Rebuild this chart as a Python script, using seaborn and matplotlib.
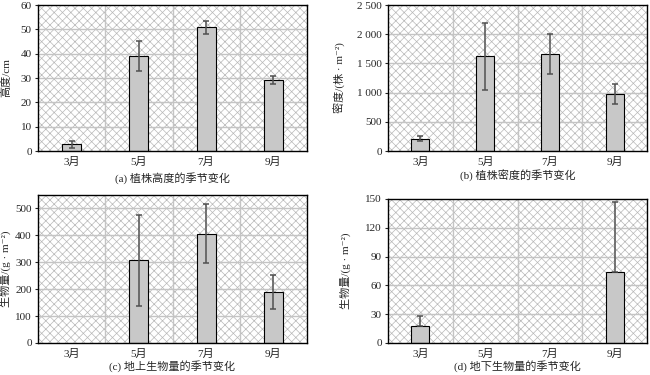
"""Seasonal change of plant height, density and biomass (four bar panels)
"""

import matplotlib.pyplot as plt
from matplotlib.patches import Rectangle
from matplotlib.ticker import MultipleLocator, FuncFormatter
import numpy as np
import pandas as pd
import seaborn as sns

months = ["3月", "5月", "7月", "9月"]

height_mean = [2.7, 38.9, 50.8, 29.2]
height_err = [1.6, 6.2, 2.7, 1.5]

density_mean = [210, 1625, 1655, 975]
density_err = [40, 575, 345, 178]

above_mean = [np.nan, 307, 406, 189]
above_err = [np.nan, 168, 110, 63]

below_mean = [17.3, np.nan, np.nan, 73.8]
below_err = [11.0, np.nan, np.nan, 72.7]

sns.set_style("white")
plt.rcParams["font.family"] = ["Liberation Serif", "Noto Sans CJK SC", "DejaVu Serif"]
plt.rcParams["hatch.linewidth"] = 0.5
plt.rcParams["axes.unicode_minus"] = False

fig = plt.figure(figsize=(6.5, 3.75), dpi=100)

panels = [
    # mean, err, ylim, step, ylabel, caption, rect (px), label x (px), caption y (px), upper only
    (height_mean, height_err, 60, 10, "高度/cm", "(a) 植株高度的季节变化",
     [38, 5, 307, 151], 11, 178, False),
    (density_mean, density_err, 2500, 500, "密度/(株 · m⁻²)", "(b) 植株密度的季节变化",
     [388, 5, 647, 151], 346, 176, False),
    (above_mean, above_err, 550, 100, "生物量/(g · m⁻²)", "(c) 地上生物量的季节变化",
     [38, 195, 307, 343], 11, 366, False),
    (below_mean, below_err, 150, 30, "生物量/(g · m⁻²)", "(d) 地下生物量的季节变化",
     [388, 199, 647, 343], 351, 366, True),
]

W, H = 650, 375


def thousands(v, pos):
    return f"{int(v):,}".replace(",", " ")


for mean, err, top, step, ylab, cap, (l, t, r, b), lx, cy, upper in panels:
    ax = fig.add_axes([l / W, 1 - b / H, (r - l) / W, (b - t) / H])
    df = pd.DataFrame({"month": months, "val": mean})
    sns.barplot(data=df, x="month", y="val", order=months, color="#c8c8c8",
                saturation=1, width=0.28, edgecolor="black", linewidth=0.8,
                errorbar=None, ax=ax, zorder=3)
    x = np.arange(len(months))
    m = np.array(mean, dtype=float)
    e = np.array(err, dtype=float)
    yerr = [np.zeros_like(e), e] if upper else e
    ax.errorbar(x, m, yerr=yerr, fmt="none", ecolor="#505050", elinewidth=1.1,
                capsize=2, capthick=1.1, zorder=4)

    # cross-hatched background
    ax.add_patch(Rectangle((0, 0), 1, 1, transform=ax.transAxes, facecolor="white",
                           hatch="xxxx", edgecolor="#b8b8b8", lw=0, zorder=0))
    for gx in [0.5, 1.5, 2.5]:
        ax.axvline(gx, color="#c4c4c4", lw=1, zorder=1)
    for gy in np.arange(step, top, step):
        ax.axhline(gy, color="#c4c4c4", lw=1, zorder=1)

    ax.set_xlim(-0.5, 3.5)
    ax.set_ylim(0, top)
    ax.yaxis.set_major_locator(MultipleLocator(step))
    if top >= 1000:
        ax.yaxis.set_major_formatter(FuncFormatter(thousands))
    ax.set_xlabel("")
    ax.set_ylabel(ylab, fontsize=8)
    ax.yaxis.set_label_coords((lx - l) / (r - l), 0.5)
    ax.tick_params(axis="both", labelsize=8, length=2.5, width=0.8, pad=2,
                   left=True, bottom=False)
    for s in ax.spines.values():
        s.set_color("black")
        s.set_linewidth(1)
        s.set_zorder(5)
    fig.text((l + r) / 2 / W, 1 - cy / H, cap, ha="center", va="center", fontsize=8)

plt.savefig("out.png", dpi=100)
